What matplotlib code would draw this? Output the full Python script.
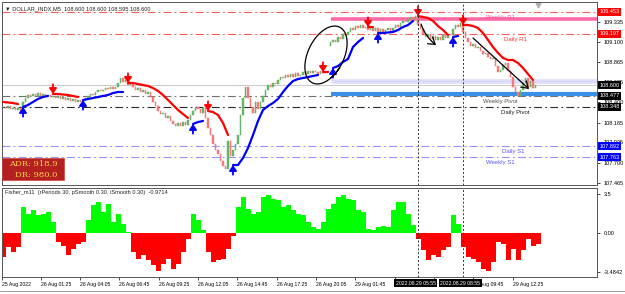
import numpy as np
import matplotlib
matplotlib.use('Agg')
import matplotlib.pyplot as plt
from matplotlib.transforms import blended_transform_factory, IdentityTransform
from matplotlib.lines import Line2D
from matplotlib.patches import Rectangle

plt.rcParams['font.family'] = ['Liberation Sans', 'DejaVu Sans']

# ---------------- data ----------------
closes = [
    108.35, 108.33, 108.36, 108.32, 108.34, 108.31, 108.33, 108.30,
    108.40, 108.45, 108.49, 108.47, 108.50, 108.48, 108.51, 108.47, 108.50, 108.48,
    108.49, 108.46, 108.48, 108.45, 108.47, 108.44, 108.46, 108.43, 108.45, 108.42, 108.44, 108.41, 108.43, 108.40, 108.42,
    108.45, 108.47, 108.50, 108.49, 108.52, 108.54, 108.53, 108.55, 108.57, 108.56, 108.58, 108.56, 108.58,
    108.62, 108.68, 108.64, 108.66, 108.60, 108.62,
    108.58, 108.55, 108.57, 108.52, 108.54, 108.50, 108.52,
    108.46, 108.40, 108.36, 108.30, 108.26, 108.28, 108.22, 108.24, 108.18, 108.15, 108.12,
    108.16, 108.13, 108.17, 108.14, 108.19,
    108.25, 108.30, 108.35, 108.32, 108.28, 108.33,
    108.22, 108.10, 108.02, 107.92, 107.85, 107.80,
    107.72, 107.66, 107.62, 107.95, 107.78, 107.85,
    107.92, 108.02,
    108.25, 108.45, 108.58,
    108.45, 108.35, 108.28, 108.40, 108.32,
    108.40, 108.48, 108.55, 108.60, 108.58, 108.63, 108.61,
    108.66, 108.70, 108.68, 108.72, 108.69, 108.73, 108.70, 108.74, 108.71,
    108.72, 108.75, 108.73, 108.76, 108.74, 108.77, 108.75, 108.73, 108.76, 108.74, 108.77, 108.75,
    109.10, 109.13, 109.10, 109.16, 109.14, 109.20, 109.18, 109.22,
    109.26, 109.24, 109.29, 109.27, 109.30, 109.26, 109.28,
    109.24, 109.27, 109.23, 109.26, 109.22, 109.25, 109.21, 109.24, 109.26, 109.23, 109.27,
    109.30, 109.28, 109.32, 109.35, 109.33, 109.37, 109.39, 109.36, 109.40,
    109.30, 109.25, 109.20, 109.16, 109.19, 109.14, 109.17, 109.13,
    109.16, 109.12, 109.18, 109.15, 109.20, 109.18,
    109.25, 109.30, 109.28, 109.32,
    109.22, 109.15, 109.10, 109.06, 109.08, 109.03, 109.05,
    109.00, 108.96, 108.98, 108.93, 108.90, 108.92,
    108.82, 108.75, 108.78,
    108.84, 108.86, 108.76,
    108.70, 108.58, 108.52, 108.48, 108.55,
    108.62, 108.68, 108.58, 108.65, 108.57, 108.60,
]
gap_opens = {131: 109.06}   # weekend gap open

# trailing stop segments: (start bar, direction -1 down/red, +1 up/blue, values every 2 bars)
trail_segments = [
    (0, -1, [108.405, 108.399, 108.393, 108.381]),
    (8, 1, [108.347, 108.370, 108.405, 108.440, 108.463, 108.475]),
    (20, -1, [108.498, 108.498, 108.492, 108.486, 108.475, 108.463]),
    (32, 1, [108.428, 108.440, 108.451, 108.463, 108.475, 108.486, 108.509, 108.521, 108.521]),
    (50, -1, [108.626, 108.626, 108.614, 108.602, 108.591, 108.567, 108.533, 108.486,
              108.428, 108.370, 108.312, 108.265, 108.219]),
    (76, 1, [108.149, 108.172, 108.184]),
    (82, -1, [108.300, 108.288, 108.254, 108.161, 108.021]),
    (92, 1, [107.672, 107.672, 107.754, 107.870, 108.021, 108.184, 108.312, 108.358, 108.393,
             108.440, 108.521, 108.591, 108.649, 108.672, 108.684, 108.695, 108.707, 108.719]),
    (128, -1, [108.754, 108.754]),
    (132, 1, [108.800, 108.823, 108.870, 108.905, 109.044, 109.102, 109.149]),
    (146, -1, [109.277, 109.277]),
    (150, 1, [109.207, 109.207, 109.213, 109.219, 109.242, 109.277, 109.300, 109.347]),
    (166, -1, [109.405, 109.393, 109.382, 109.347, 109.288, 109.242, 109.184]),
    (180, 1, [109.161, 109.172]),
    (184, -1, [109.300, 109.300, 109.288, 109.265, 109.207, 109.126, 109.044, 108.975,
               108.917, 108.893, 108.893, 108.858, 108.800, 108.730, 108.661]),
]

# Fisher histogram values, one every 2 bars
fisher = [
    -2.15, -1.26, -1.70, -1.26,
    2.33, 1.73, 2.03, 1.58, 1.73, 1.88, 0.99,
    -0.81, -1.11, -2.00, -1.41, -0.96, -0.81,
    1.14, 2.48, 2.78, 1.88, 2.63, 0.99, 1.73, 0.84, 0.09,
    -1.70, -2.30, -2.00, -2.45, -2.90, -3.35, -2.75, -2.30, -3.20, -2.75, -1.70, -0.51,
    1.73, 1.14, 0.30,
    -1.70, -2.60, -2.45, -2.30, -1.41, -0.30,
    2.33, 3.23, 2.18, 1.73, 1.88, 3.23, 3.40, 3.08, 2.93, 2.33, 2.48, 2.03, 1.73, 1.58, 0.99, 0.54, 0.39,
    0.99, 2.18, 2.63, 3.23, 3.40, 3.08, 2.93, 2.03, 1.88, 0.39, 0.24, 0.54, 0.60, 0.54, 2.03, 2.78, 2.78, 1.73, 0.69,
    -0.51, -1.55, -2.45, -2.00, -2.15, -1.55, -1.26,
    1.58, 0.84,
    -1.26, -2.15, -2.30, -2.60, -3.20, -3.40, -2.60, -0.81, -0.96, -2.45, -1.41, -2.45, -1.55, -0.51, -1.11, -0.97,
]

price_ticks = [109.335, 109.100, 108.865, 108.635, 108.400, 108.165, 107.935, 107.700, 107.465]
fisher_ticks = [3.5, 0.0, -3.4842]
fisher_tick_labels = ['3.5', '0.00', '-3.4842']

# pivot levels (value, colour, label, label bar position)
levels = [
    (109.453, '#ff5a5a', None, None),
    (109.197, '#ff5a5a', 'Daily R1', 205),
    (108.477, '#707070', 'Weekly Pivot', 199),
    (108.348, '#2a2a2a', 'Daily Pivot', 205),
    (107.892, '#9090ff', 'Daily S1', 204),
    (107.763, '#9090ff', 'Weekly S1', 199),
]
label_colors = {'Daily R1': '#ff3030', 'Weekly Pivot': '#505050', 'Daily Pivot': '#202020',
                'Daily S1': '#5555ff', 'Weekly S1': '#5555ff'}
bands = [(109.370, '#ff6aa6', 2.6), (108.649, '#dcdcfa', 3.3), (108.501, '#3a8fe6', 3.0)]
band_start = 131
weekly_r1_label_bar = 199

boxed = [(109.453, '#ff0000'), (109.197, '#ff0000'), (108.600, '#000000'),
         (108.477, '#000000'), (108.348, '#000000'), (107.892, '#0000ff'), (107.763, '#0000ff')]

marker_bars = [166, 184]
marker_labels = ['2022.08.29 05:55', '2022.08.29 08:55']

# labels hidden behind the separator boxes are left empty
xtick_labels = ['25 Aug 2022', '26 Aug 01:25', '26 Aug 04:05', '26 Aug 06:45', '26 Aug 09:25',
                '26 Aug 12:05', '26 Aug 14:45', '26 Aug 17:25', '26 Aug 20:05', '29 Aug 01:45',
                '', '', '29 Aug 09:45', '29 Aug 12:25']
tick_step = 15.73
tick_first = -0.64

title = '\u25bc DOLLAR_INDX,M5  108.600 108.600 108.595 108.600'
fisher_title = 'Fisher_m11  (rPeriods 30, pSmooth 0.30, iSmooth 0.30)  -0.9714'
adr_text = 'ADR: 918.9'
dr_text = 'DR: 980.0'

# ---------------- figure ----------------
W, H = 625, 294
fig = plt.figure(figsize=(W / 100, H / 100), dpi=100)
fig.patch.set_facecolor('white')

def box(l, t, r, b):
    return [l / W, 1 - b / H, (r - l) / W, (b - t) / H]

ax = fig.add_axes(box(2, 2, 597, 185))
ax2 = fig.add_axes(box(2, 188, 597, 277), sharex=ax)
XL = (-0.4, 237.6)
ax.set_xlim(*XL)
ax.set_ylim(107.4397, 109.5676)
ax2.set_ylim(-3.93, 4.04)

for a in (ax, ax2):
    for s in a.spines.values():
        s.set_color('#555555')
        s.set_linewidth(0.7)

# candles
n = len(closes)
idx = np.arange(n)
opens = [closes[0]] + closes[:-1]
for k, v in gap_opens.items():
    opens[k] = v
opens = np.array(opens)
cl = np.array(closes)
up = cl >= opens
cols = np.where(up, '#68b468', '#f27a7a')
ax.bar(idx, cl - opens, bottom=opens, width=0.6, color=cols, edgecolor=cols, linewidth=0.35, zorder=3)

# horizontal levels
for val, col, lab, lx in levels:
    ax.axhline(val, color=col, lw=0.8, ls=(0, (7, 3, 1.5, 3)), zorder=2)
    if lab:
        ax.annotate(lab, xy=(lx, val), xytext=(0, -3.8), textcoords='offset points',
                    ha='center', va='center', fontsize=4.3, color=label_colors[lab], zorder=6)
for val, col, lw in bands:
    ax.hlines(val, band_start, XL[1], colors=col, lw=lw, zorder=2)
ax.text(weekly_r1_label_bar, bands[0][0] + 0.012, 'Weekly R1', ha='center', va='center',
        fontsize=4.3, color='#ff4d94', zorder=6)
ax.axhline(closes[-1], color='#c8c8c8', lw=0.7, zorder=1)

# trailing stop
for k, (start, d, vals) in enumerate(trail_segments):
    xs = start + 2 * np.arange(len(vals))
    col = '#ff0000' if d < 0 else '#0000ff'
    ax.plot(xs, vals, color=col, lw=1.6, solid_capstyle='round', zorder=4)
    if k > 0:
        off = 7 if d < 0 else -7
        ax.annotate('', xy=(start, vals[0]), xytext=(0, off), textcoords='offset points',
                    arrowprops=dict(arrowstyle='-|>,head_width=0.22,head_length=0.32',
                                    color=col, lw=1.3, shrinkA=0, shrinkB=0), zorder=5)

# chart shift marker
ax.plot([n], [0.985], marker='v', ms=3.5, color='#b0b0b0',
        transform=blended_transform_factory(ax.transData, ax.transAxes), clip_on=False)

# vertical separators
for a in (ax, ax2):
    for mb in marker_bars:
        a.axvline(mb, color='#333333', lw=0.7, ls=(0, (2, 2)), zorder=6)

# fisher
fx = 2 * np.arange(len(fisher))
fv = np.array(fisher)
ax2.bar(fx, fv, width=2.0, color=np.where(fv > 0, '#00ff00', '#ff0000'), linewidth=0, zorder=2)

# y axes on right
ax.yaxis.tick_right()
ax.set_yticks(price_ticks)
ax.set_yticklabels([f'{v:.3f}' for v in price_ticks])
ax.tick_params(axis='y', length=2, width=0.5, labelsize=4, pad=2.5, colors='#000000')
ax.tick_params(axis='x', bottom=False, labelbottom=False)
ax2.yaxis.tick_right()
ax2.set_yticks(fisher_ticks)
ax2.set_yticklabels(fisher_tick_labels)
ax2.tick_params(axis='y', length=2, width=0.5, labelsize=4, pad=2.5)

# x ticks
tpos = [max(tick_first + tick_step * k, XL[0]) for k in range(len(xtick_labels))]
ax2.set_xticks(tpos)
ax2.set_xticklabels(xtick_labels)
ax2.tick_params(axis='x', length=2, width=0.5, labelsize=3.7, pad=1.5)
for t in ax2.get_xticklabels():
    t.set_ha('left')
ax.tick_params(axis='x', bottom=False, labelbottom=False)

# boxed price labels
bt = blended_transform_factory(ax.transAxes, ax.transData)
for val, col in boxed:
    ax.text(1.004, val, f'{val:.3f}', transform=bt, ha='left', va='center', fontsize=4,
            color='white', clip_on=False, zorder=10,
            bbox=dict(boxstyle='square,pad=0.25', fc=col, ec='none'))

# separator time labels
bt2 = blended_transform_factory(ax2.transData, ax2.transAxes)
for mb, lab in zip(marker_bars, marker_labels):
    ax2.text(mb - 1, -0.068, lab, transform=bt2, ha='center', va='center', fontsize=3.7,
             color='white', clip_on=False, zorder=10,
             bbox=dict(boxstyle='square,pad=0.25', fc='black', ec='none'))

# titles
ax.text(0.005, 0.962, title, transform=ax.transAxes, fontsize=4.1, color='#222222', va='center', ha='left')
ax2.text(0.005, 0.944, fisher_title, transform=ax2.transAxes, fontsize=4.1, color='#222222',
         va='center', ha='left')

# ADR box
ax.add_patch(Rectangle((0.0, 0.027), 0.104, 0.121, transform=ax.transAxes, fc='#b3201f',
                       ec='#d04040', lw=0.5, zorder=7, clip_on=False))
ax.text(0.093, 0.114, adr_text, transform=ax.transAxes, ha='right', va='center',
        fontsize=6, color='#ffd24a', family='DejaVu Serif', zorder=8)
ax.text(0.093, 0.054, dr_text, transform=ax.transAxes, ha='right', va='center',
        fontsize=6, color='#ffd24a', family='DejaVu Serif', zorder=8)

# hand drawn annotations (figure pixels)
def pix(x, y):
    return (x, H - y)

t = np.linspace(-2.2, -2.2 + 2 * np.pi + 0.45, 200)
phi = np.deg2rad(64)
a_, b_ = 31, 18
cx, cy = pix(326, 55)
ex = cx + a_ * np.cos(t) * np.cos(phi) - b_ * np.sin(t) * np.sin(phi)
ey = cy + a_ * np.cos(t) * np.sin(phi) + b_ * np.sin(t) * np.cos(phi)
fig.add_artist(Line2D(ex, ey, transform=IdentityTransform(), color='black', lw=0.9))

for (x0, y0), (x1, y1), rad in [((421, 24), (436, 45), 0.15), ((473, 38), (529, 89), 0.0)]:
    ax.annotate('', xy=pix(x1, y1), xytext=pix(x0, y0), xycoords='figure pixels',
                textcoords='figure pixels',
                arrowprops=dict(arrowstyle='->,head_length=0.45,head_width=0.3', color='black', lw=0.9,
                                shrinkA=0, shrinkB=0, connectionstyle=f'arc3,rad={rad}'),
                annotation_clip=False, zorder=9)

fig.add_artist(Line2D([0, W], [H - 291, H - 291], transform=IdentityTransform(), color='#a0a0a0', lw=0.7))

fig.savefig('out.png', dpi=100, facecolor='white')
